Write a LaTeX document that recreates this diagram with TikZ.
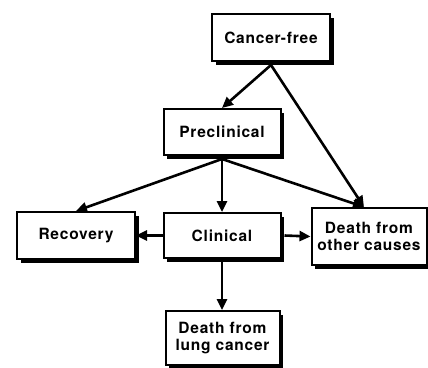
\documentclass[tikz,border=0pt]{standalone}
\usepackage{fontspec}
\setmainfont{TeX Gyre Heros}[LetterSpace=5]
\usetikzlibrary{arrows.meta,shadows}
\begin{document}
\begin{tikzpicture}[x=1pt,y=-1pt,
  stbox/.style={draw, line width=2pt, fill=white, align=center, inner sep=0pt,
    font=\fontsize{15.5}{17}\selectfont\bfseries,
    drop shadow={shadow xshift=3.5pt, shadow yshift=-3.5pt, fill=black, opacity=1}},
  arr/.style={line width=2.6pt, -{Triangle[length=11pt,width=10pt]}}]
\useasboundingbox (0,0) rectangle (428,367);
\node[stbox, minimum width=118pt, minimum height=47pt] (cf) at (271,37.5) {Cancer-free};
\node[stbox, minimum width=117pt, minimum height=46pt] (pre) at (222,132) {Preclinical};
\node[stbox, minimum width=118pt, minimum height=47pt] (rec) at (76,235.5) {Recovery};
\node[stbox, minimum width=117pt, minimum height=45pt] (cli) at (222,235.5) {Clinical};
\node[stbox, minimum width=115pt, minimum height=57pt] (do) at (369,236.5) {Death from\\other causes};
\node[stbox, minimum width=114pt, minimum height=54pt] (dl) at (222.5,338) {Death from\\lung cancer};
\coordinate (doin) at ([xshift=-5pt]do.north);
\draw[arr] ([yshift=-3pt]cf.south) -- (pre.north);
\draw[arr] ([yshift=-3pt]cf.south) -- (doin);
\draw[arr] ([yshift=-3pt]pre.south) -- (rec.north);
\draw[arr] ([yshift=-3pt]pre.south) -- (cli.north);
\draw[arr] ([yshift=-3pt]pre.south) -- (doin);
\draw[arr] (cli.west) -- (rec.east);
\draw[arr] ([xshift=3pt]cli.east) -- (do.west);
\draw[arr] ([yshift=-3pt]cli.south) -- (cli.south |- dl.north);
\end{tikzpicture}
\end{document}
